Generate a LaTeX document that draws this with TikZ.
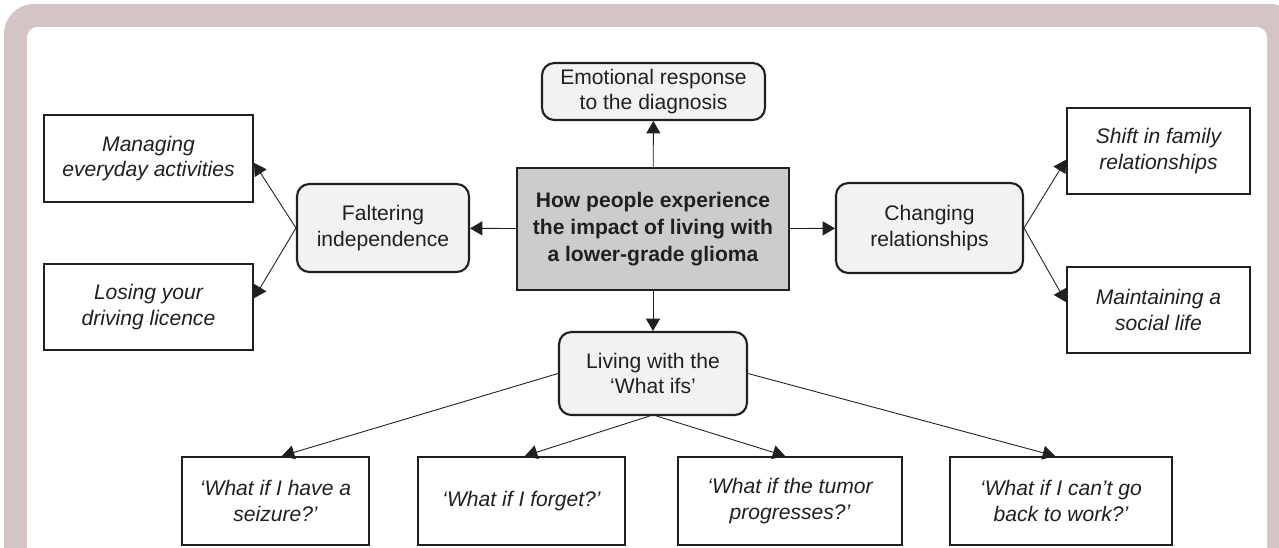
\documentclass[tikz,border=0pt]{standalone}
\usepackage{fontspec}
\setmainfont{Liberation Sans}
\usetikzlibrary{arrows.meta,positioning}

\definecolor{framepink}{HTML}{D5C4C6}
\definecolor{themegrey}{HTML}{F2F2F2}
\definecolor{coregrey}{HTML}{CCCCCC}
\definecolor{inkdark}{HTML}{231F20}

\tikzset{
  theme/.style={draw=inkdark,line width=1.2pt,rounded corners=7pt,fill=themegrey,
    align=center,text=inkdark,font=\fontsize{12}{14.5}\selectfont},
  subtheme/.style={draw=inkdark,line width=1.2pt,fill=white,align=center,
    text=inkdark,font=\fontsize{12}{14.5}\selectfont\itshape},
  core/.style={draw=inkdark,line width=1.4pt,fill=coregrey,align=center,
    text=inkdark,font=\fontsize{12}{15.3}\selectfont\bfseries},
  link/.style={draw=inkdark,line width=0.5pt,-{Triangle[length=7pt,width=8pt]}}
}

\begin{document}
\begin{tikzpicture}[x=0.02cm,y=-0.02cm]
    % Frame
    \clip (0,0) rectangle (1279,548);
    \fill[framepink,rounded corners=17pt] (4,4) rectangle (1300,600);
    \fill[white,rounded corners=6pt] (27,27) rectangle (1267,600);

    % Core theme
    \node[core,minimum width=5.44cm,minimum height=2.44cm] (core) at (653,229)
        {How people experience\\the impact of living with\\a lower-grade glioma};

    % Themes
    \node[theme,minimum width=4.46cm,minimum height=1.14cm] (emotion) at (653.5,91.5)
        {Emotional response\\to the diagnosis};
    \node[theme,minimum width=3.44cm,minimum height=1.76cm] (falter) at (383,228)
        {Faltering\\independence};
    \node[theme,minimum width=3.74cm,minimum height=1.8cm] (relation) at (929.5,228)
        {Changing\\relationships};
    \node[theme,minimum width=3.76cm,minimum height=1.66cm] (whatifs) at (653,373.5)
        {Living with the\\‘What ifs’};

    % Subthemes
    \node[subtheme,minimum width=4.18cm,minimum height=1.74cm] (everyday) at (148.5,158.5)
        {Managing\\everyday activities};
    \node[subtheme,minimum width=4.18cm,minimum height=1.72cm] (driving) at (148.5,307)
        {Losing your\\driving licence};
    \node[subtheme,minimum width=3.66cm,minimum height=1.72cm] (family) at (1158.5,151)
        {Shift in family\\relationships};
    \node[subtheme,minimum width=3.66cm,minimum height=1.72cm] (social) at (1158.5,310)
        {Maintaining a\\social life};
    \node[subtheme,minimum width=3.74cm,minimum height=1.76cm] (seizure) at (275.5,501)
        {‘What if I have a\\seizure?’};
    \node[subtheme,minimum width=4.14cm,minimum height=1.76cm] (forget) at (521.5,501)
        {‘What if I forget?’};
    \node[subtheme,minimum width=4.48cm,minimum height=1.76cm] (tumor) at (790,501)
        {‘What if the tumor\\progresses?’};
    \node[subtheme,minimum width=4.44cm,minimum height=1.76cm] (work) at (1061,501)
        {‘What if I can’t go\\back to work?’};

    % Connectors
    \draw[link] (core) -- (emotion);
    \draw[link] (core) -- (falter);
    \draw[link] (core) -- (relation);
    \draw[link] (core) -- (whatifs);
    \draw[link] (falter.west) -- ([yshift=-2.5pt]everyday.east);
    \draw[link] (falter.west) -- ([yshift=5pt]driving.east);
    \draw[link] (relation.east) -- ([yshift=-5pt]family.west);
    \draw[link] (relation.east) -- ([yshift=4.5pt]social.west);
    \draw[link] (whatifs.west) -- ([xshift=3.7pt]seizure.north);
    \draw[link] ([xshift=-2pt]whatifs.south) -- ([xshift=2pt]forget.north);
    \draw[link] ([xshift=2pt]whatifs.south) -- ([xshift=-2.8pt]tumor.north);
    \draw[link] (whatifs.east) -- ([xshift=-3.4pt]work.north);
\end{tikzpicture}
\end{document}
